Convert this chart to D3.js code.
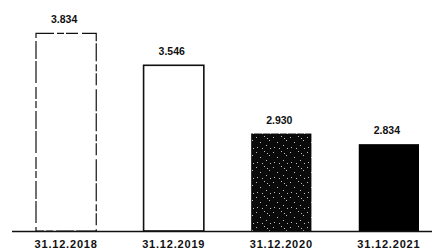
<!DOCTYPE html>
<html>
<head>
<meta charset="utf-8">
<script src="https://cdn.jsdelivr.net/npm/d3@7"></script>
<style>
	html, body { margin: 0; padding: 0; background: #fff; }
	svg { display: block; }
</style>
</head>
<body>
<svg id="chart" width="432" height="251"></svg>
<script>
// chart data
var categories = ['31.12.2018', '31.12.2019', '31.12.2020', '31.12.2021'];
var values = [3834, 3546, 2930, 2834];
var valueLabels = ['3.834', '3.546', '2.930', '2.834'];
// how each bar is drawn: dashed outline, outline, speckled, solid
var barStyles = ['dashed', 'outline', 'speckle', 'solid'];

var svg = d3.select('svg#chart'),
	width = 432,
	height = 251,
	baseline = 231;

var x = d3.scaleBand()
	.domain(categories)
	.range([36, 419])
	.paddingInner(0.44)
	.paddingOuter(0);

// axis does not start at zero in the original
var y = d3.scaleLinear()
	.domain([2050, 4000])
	.range([baseline, 15]);

// speckled texture for the 2020 bar (fixed dot positions)
var defs = svg.append('defs');
var pat = defs.append('pattern')
	.attr('id', 'speckle')
	.attr('patternUnits', 'userSpaceOnUse')
	.attr('width', 17)
	.attr('height', 15);
pat.append('rect').attr('width', 17).attr('height', 15).attr('fill', '#0a0a0a');
[[1, 2], [9, 1], [14, 5], [5, 7], [11, 10], [2, 12], [7, 13], [15, 13], [12, 3]].forEach(function(p) {
	pat.append('rect')
		.attr('x', p[0]).attr('y', p[1])
		.attr('width', 1).attr('height', 1)
		.attr('fill', '#fff').attr('opacity', 0.75);
});

var data = categories.map(function(c, i) {
	return { cat: c, value: values[i], label: valueLabels[i], style: barStyles[i] };
});

svg.append('g').selectAll('rect.bar')
	.data(data)
	.enter()
	.append('rect')
	.attr('class', 'bar')
	.attr('x', d => x(d.cat))
	.attr('y', d => y(d.value))
	.attr('width', x.bandwidth())
	.attr('height', d => baseline - y(d.value))
	.attr('fill', function(d) {
		if (d.style === 'solid') return '#000';
		if (d.style === 'speckle') return 'url(#speckle)';
		return '#fff';
	})
	.attr('stroke', d => (d.style === 'dashed' || d.style === 'outline') ? '#111' : 'none')
	.attr('stroke-width', d => d.style === 'outline' ? 1.6 : 1.2)
	.attr('stroke-dasharray', d => d.style === 'dashed' ? '18 3 7 2 12 4 22 2' : null);

// value labels above bars
svg.append('g').selectAll('text.value')
	.data(data)
	.enter()
	.append('text')
	.attr('class', 'value')
	.attr('x', d => x(d.cat) + x.bandwidth() / 2 - 2)
	.attr('y', d => y(d.value) - 10)
	.attr('text-anchor', 'middle')
	.attr('font-family', '"Liberation Sans", Arial, sans-serif')
	.attr('font-weight', 'bold')
	.attr('font-size', '10.5px')
	.attr('fill', '#111')
	.text(d => d.label);

// baseline
svg.append('line')
	.attr('x1', 12)
	.attr('x2', width)
	.attr('y1', baseline + 0.5)
	.attr('y2', baseline + 0.5)
	.attr('stroke', '#111')
	.attr('stroke-width', 1.5);

// category labels
var xAxis = svg.append('g')
	.attr('transform', `translate(0, ${baseline})`)
	.call(d3.axisBottom(x).tickSize(0).tickPadding(0));
xAxis.select('.domain').remove();
xAxis.selectAll('text')
	.attr('y', 16.5)
	.attr('dy', 0)
	.attr('font-family', '"Liberation Sans", Arial, sans-serif')
	.attr('font-weight', 'bold')
	.attr('font-size', '11px')
	.attr('letter-spacing', '0.8px')
	.attr('fill', '#111');
</script>
</body>
</html>
